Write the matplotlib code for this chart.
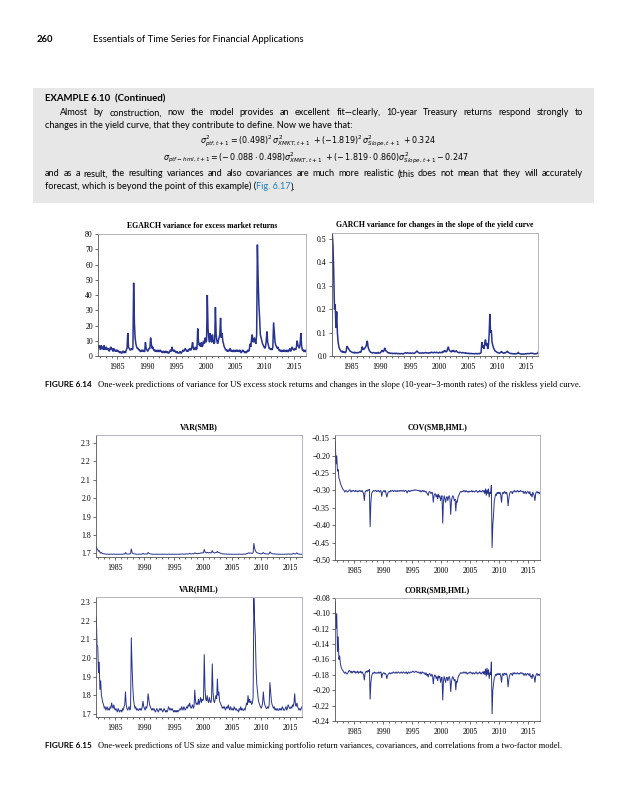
import matplotlib
matplotlib.use("Agg")
import matplotlib.pyplot as plt
import numpy as np
from matplotlib.patches import Rectangle

# weekly series sampled every 1/8 year, first point at 1981.75
T0 = 1981.75
STEP = 0.125

egarch = [5, 7,
          6, 4, 7, 5, 6, 4, 7, 4,
          5, 6, 4, 5, 4, 3, 5, 6,
          4, 5, 3, 5, 4, 3, 4, 3,
          4, 3, 3, 2, 3, 2, 2, 3,
          3, 2, 3, 2, 4, 5, 15, 6,
          5, 4, 4, 5, 4, 5, 48, 22,
          12, 8, 6, 5, 5, 4, 4, 3,
          3, 4, 3, 4, 3, 3, 9, 5,
          4, 3, 4, 5, 5, 12, 8, 5,
          6, 4, 4, 3, 4, 3, 3, 4,
          3, 3, 4, 3, 3, 2, 3, 3,
          2, 3, 3, 2, 3, 2, 2, 3,
          4, 3, 6, 4, 3, 4, 3, 3,
          2, 3, 2, 2, 2, 3, 2, 2,
          3, 4, 3, 4, 5, 4, 3, 4,
          3, 4, 5, 4, 4, 6, 9, 5,
          4, 5, 6, 4, 5, 18, 10, 7,
          8, 6, 9, 6, 7, 10, 8, 12,
          9, 10, 40, 18, 12, 9, 15, 11,
          9, 14, 10, 8, 9, 32, 14, 10,
          8, 10, 12, 14, 25, 12, 15, 10,
          8, 6, 5, 4, 4, 3, 4, 3,
          4, 5, 3, 4, 3, 3, 4, 3,
          3, 4, 3, 4, 3, 3, 4, 3,
          2, 3, 4, 3, 3, 2, 3, 2,
          3, 4, 3, 4, 8, 6, 11, 14,
          9, 10, 12, 9, 8, 14, 73, 51,
          34, 25, 14, 12, 10, 8, 7, 6,
          5, 6, 10, 16, 9, 7, 5, 5,
          4, 5, 4, 6, 22, 15, 9, 7,
          6, 5, 6, 4, 4, 3, 4, 3,
          3, 4, 3, 4, 3, 3, 4, 3,
          3, 4, 5, 3, 4, 6, 5, 4,
          4, 5, 4, 6, 10, 7, 6, 5,
          8, 15, 7, 4, 4, 3, 3, 4,
          3]

garch = [0.52, 0.47,
         0.35, 0.20, 0.22, 0.12, 0.19, 0.10, 0.06, 0.04,
         0.03, 0.025, 0.02, 0.018, 0.02, 0.015, 0.018, 0.015,
         0.015, 0.02, 0.042, 0.038, 0.032, 0.028, 0.022, 0.02,
         0.018, 0.016, 0.015, 0.014, 0.016, 0.013, 0.015, 0.014,
         0.013, 0.015, 0.014, 0.016, 0.018, 0.015, 0.025, 0.04,
         0.03, 0.028, 0.032, 0.035, 0.04, 0.05, 0.065, 0.04,
         0.03, 0.022, 0.018, 0.015, 0.014, 0.013, 0.015, 0.014,
         0.013, 0.012, 0.014, 0.012, 0.013, 0.015, 0.012, 0.013,
         0.014, 0.018, 0.025, 0.02, 0.018, 0.025, 0.035, 0.025,
         0.02, 0.018, 0.015, 0.013, 0.014, 0.012, 0.011, 0.012,
         0.012, 0.01, 0.011, 0.012, 0.01, 0.011, 0.012, 0.01,
         0.01, 0.011, 0.01, 0.009, 0.01, 0.011, 0.01, 0.009,
         0.01, 0.012, 0.014, 0.013, 0.012, 0.014, 0.013, 0.012,
         0.012, 0.013, 0.011, 0.012, 0.013, 0.012, 0.011, 0.013,
         0.014, 0.018, 0.022, 0.018, 0.015, 0.013, 0.012, 0.013,
         0.012, 0.013, 0.014, 0.012, 0.013, 0.014, 0.015, 0.013,
         0.014, 0.013, 0.012, 0.014, 0.013, 0.015, 0.016, 0.014,
         0.015, 0.014, 0.016, 0.015, 0.014, 0.016, 0.015, 0.014,
         0.013, 0.016, 0.015, 0.014, 0.016, 0.015, 0.02, 0.017,
         0.025, 0.02, 0.018, 0.02, 0.03, 0.04, 0.028, 0.022,
         0.02, 0.018, 0.022, 0.02, 0.025, 0.02, 0.018, 0.02,
         0.022, 0.018, 0.016, 0.015, 0.014, 0.016, 0.015, 0.014,
         0.013, 0.015, 0.014, 0.013, 0.012, 0.014, 0.012, 0.011,
         0.011, 0.012, 0.01, 0.011, 0.01, 0.011, 0.01, 0.01,
         0.01, 0.009, 0.01, 0.011, 0.01, 0.009, 0.01, 0.011,
         0.01, 0.012, 0.015, 0.06, 0.035, 0.045, 0.03, 0.055,
         0.07, 0.045, 0.055, 0.03, 0.04, 0.09, 0.18, 0.10,
         0.11, 0.06, 0.045, 0.035, 0.028, 0.022, 0.02, 0.018,
         0.015, 0.014, 0.013, 0.012, 0.014, 0.016, 0.02, 0.015,
         0.013, 0.012, 0.014, 0.013, 0.015, 0.018, 0.02, 0.016,
         0.014, 0.012, 0.011, 0.01, 0.011, 0.01, 0.009, 0.01,
         0.009, 0.01, 0.009, 0.01, 0.012, 0.015, 0.011, 0.01,
         0.009, 0.008, 0.009, 0.008, 0.009, 0.008, 0.009, 0.01,
         0.009, 0.01, 0.011, 0.01, 0.01, 0.011, 0.012, 0.011,
         0.012, 0.011, 0.01, 0.009, 0.01, 0.009, 0.01, 0.011,
         0.015]

var_smb = [1.735, 1.725,
           1.72, 1.71, 1.715, 1.705, 1.70, 1.705, 1.70, 1.698,
           1.698, 1.697, 1.696, 1.696, 1.695, 1.696, 1.695, 1.695,
           1.695, 1.696, 1.695, 1.696, 1.695, 1.695, 1.696, 1.695,
           1.695, 1.695, 1.695, 1.695, 1.695, 1.695, 1.695, 1.695,
           1.695, 1.695, 1.695, 1.696, 1.697, 1.696, 1.705, 1.698,
           1.696, 1.696, 1.697, 1.696, 1.697, 1.698, 1.725, 1.705,
           1.70, 1.698, 1.697, 1.696, 1.696, 1.695, 1.695, 1.695,
           1.695, 1.695, 1.696, 1.695, 1.695, 1.696, 1.700, 1.697,
           1.696, 1.696, 1.697, 1.696, 1.697, 1.705, 1.70, 1.698,
           1.697, 1.696, 1.696, 1.695, 1.695, 1.695, 1.695, 1.695,
           1.695, 1.695, 1.695, 1.695, 1.695, 1.695, 1.695, 1.695,
           1.695, 1.695, 1.695, 1.695, 1.695, 1.695, 1.695, 1.695,
           1.695, 1.696, 1.695, 1.695, 1.695, 1.695, 1.695, 1.695,
           1.695, 1.695, 1.695, 1.695, 1.695, 1.695, 1.695, 1.695,
           1.695, 1.695, 1.696, 1.696, 1.697, 1.696, 1.695, 1.696,
           1.696, 1.696, 1.697, 1.696, 1.697, 1.698, 1.700, 1.697,
           1.697, 1.697, 1.698, 1.697, 1.698, 1.703, 1.700, 1.699,
           1.699, 1.698, 1.700, 1.699, 1.700, 1.702, 1.701, 1.703,
           1.702, 1.703, 1.722, 1.708, 1.704, 1.702, 1.706, 1.703,
           1.702, 1.705, 1.703, 1.702, 1.703, 1.716, 1.706, 1.703,
           1.702, 1.703, 1.704, 1.705, 1.711, 1.704, 1.706, 1.703,
           1.701, 1.699, 1.698, 1.697, 1.697, 1.696, 1.696, 1.696,
           1.696, 1.696, 1.695, 1.696, 1.695, 1.695, 1.696, 1.695,
           1.695, 1.695, 1.695, 1.695, 1.695, 1.695, 1.695, 1.695,
           1.695, 1.695, 1.696, 1.695, 1.695, 1.695, 1.695, 1.695,
           1.695, 1.696, 1.695, 1.696, 1.699, 1.698, 1.701, 1.703,
           1.700, 1.701, 1.702, 1.700, 1.700, 1.703, 1.755, 1.728,
           1.715, 1.708, 1.704, 1.702, 1.701, 1.700, 1.699, 1.698,
           1.697, 1.698, 1.700, 1.705, 1.700, 1.698, 1.697, 1.697,
           1.696, 1.697, 1.696, 1.698, 1.708, 1.703, 1.700, 1.698,
           1.697, 1.697, 1.697, 1.696, 1.696, 1.695, 1.696, 1.695,
           1.695, 1.695, 1.695, 1.695, 1.695, 1.695, 1.695, 1.695,
           1.695, 1.695, 1.696, 1.695, 1.695, 1.697, 1.696, 1.695,
           1.695, 1.696, 1.695, 1.697, 1.700, 1.698, 1.697, 1.696,
           1.699, 1.703, 1.698, 1.696, 1.696, 1.695, 1.695, 1.695,
           1.695]

cov_sh = [-0.16, -0.225,
          -0.20, -0.245, -0.24, -0.265, -0.27, -0.28, -0.285, -0.29,
          -0.295, -0.298, -0.30, -0.305, -0.302, -0.30, -0.303, -0.305,
          -0.303, -0.30, -0.298, -0.302, -0.305, -0.30, -0.303, -0.30,
          -0.302, -0.304, -0.30, -0.303, -0.301, -0.305, -0.302, -0.30,
          -0.303, -0.301, -0.304, -0.30, -0.305, -0.31, -0.33, -0.305,
          -0.302, -0.30, -0.303, -0.298, -0.30, -0.297, -0.405, -0.335,
          -0.31, -0.305, -0.302, -0.30, -0.303, -0.301, -0.30, -0.304,
          -0.302, -0.30, -0.303, -0.305, -0.30, -0.302, -0.318, -0.305,
          -0.303, -0.30, -0.305, -0.30, -0.31, -0.32, -0.31, -0.305,
          -0.303, -0.305, -0.30, -0.303, -0.301, -0.30, -0.304, -0.302,
          -0.30, -0.303, -0.301, -0.304, -0.30, -0.302, -0.303, -0.30,
          -0.302, -0.30, -0.303, -0.301, -0.30, -0.304, -0.301, -0.30,
          -0.303, -0.308, -0.302, -0.30, -0.304, -0.301, -0.303, -0.30,
          -0.30, -0.301, -0.299, -0.30, -0.298, -0.30, -0.299, -0.30,
          -0.301, -0.30, -0.303, -0.30, -0.305, -0.302, -0.30, -0.304,
          -0.30, -0.303, -0.305, -0.302, -0.308, -0.31, -0.315, -0.305,
          -0.303, -0.306, -0.31, -0.305, -0.308, -0.335, -0.315, -0.31,
          -0.31, -0.32, -0.312, -0.325, -0.31, -0.32, -0.315, -0.33,
          -0.32, -0.315, -0.395, -0.33, -0.315, -0.325, -0.335, -0.32,
          -0.318, -0.33, -0.32, -0.315, -0.325, -0.37, -0.33, -0.32,
          -0.315, -0.32, -0.33, -0.325, -0.36, -0.33, -0.335, -0.32,
          -0.315, -0.31, -0.305, -0.303, -0.305, -0.302, -0.304, -0.30,
          -0.302, -0.305, -0.30, -0.303, -0.305, -0.302, -0.306, -0.303,
          -0.302, -0.304, -0.30, -0.305, -0.302, -0.303, -0.305, -0.302,
          -0.30, -0.303, -0.306, -0.302, -0.305, -0.30, -0.303, -0.305,
          -0.302, -0.30, -0.305, -0.30, -0.31, -0.295, -0.315, -0.298,
          -0.31, -0.295, -0.32, -0.305, -0.31, -0.285, -0.465, -0.40,
          -0.37, -0.33, -0.32, -0.31, -0.315, -0.305, -0.31, -0.305,
          -0.31, -0.305, -0.315, -0.335, -0.31, -0.305, -0.31, -0.303,
          -0.305, -0.31, -0.305, -0.315, -0.345, -0.325, -0.31, -0.305,
          -0.303, -0.305, -0.31, -0.302, -0.305, -0.30, -0.303, -0.305,
          -0.302, -0.30, -0.305, -0.302, -0.304, -0.30, -0.303, -0.302,
          -0.305, -0.302, -0.31, -0.305, -0.303, -0.31, -0.306, -0.303,
          -0.305, -0.31, -0.303, -0.315, -0.31, -0.32, -0.305, -0.31,
          -0.315, -0.33, -0.31, -0.305, -0.303, -0.308, -0.305, -0.31,
          -0.305]

var_hml = [2.22, 2.07,
           2.06, 1.92, 1.98, 1.83, 1.88, 1.80, 1.78, 1.76,
           1.75, 1.73, 1.74, 1.72, 1.73, 1.74, 1.72, 1.73,
           1.72, 1.74, 1.73, 1.76, 1.74, 1.73, 1.75, 1.73,
           1.72, 1.73, 1.72, 1.71, 1.73, 1.72, 1.71, 1.72,
           1.72, 1.71, 1.73, 1.72, 1.74, 1.75, 1.82, 1.75,
           1.73, 1.72, 1.73, 1.74, 1.72, 1.73, 2.11, 1.96,
           1.85, 1.78, 1.75, 1.73, 1.74, 1.72, 1.73, 1.72,
           1.72, 1.73, 1.72, 1.73, 1.72, 1.74, 1.77, 1.74,
           1.73, 1.72, 1.74, 1.73, 1.75, 1.81, 1.78, 1.75,
           1.74, 1.73, 1.72, 1.73, 1.72, 1.73, 1.72, 1.71,
           1.72, 1.73, 1.72, 1.71, 1.72, 1.73, 1.72, 1.73,
           1.72, 1.71, 1.72, 1.73, 1.72, 1.71, 1.72, 1.71,
           1.72, 1.74, 1.73, 1.72, 1.73, 1.72, 1.73, 1.72,
           1.71, 1.72, 1.71, 1.72, 1.71, 1.72, 1.71, 1.72,
           1.72, 1.73, 1.72, 1.74, 1.73, 1.72, 1.74, 1.73,
           1.72, 1.73, 1.74, 1.73, 1.75, 1.74, 1.76, 1.74,
           1.73, 1.74, 1.75, 1.73, 1.74, 1.83, 1.77, 1.75,
           1.76, 1.75, 1.78, 1.75, 1.77, 1.79, 1.76, 1.78,
           1.77, 1.78, 2.02, 1.84, 1.78, 1.77, 1.80, 1.77,
           1.76, 1.79, 1.77, 1.76, 1.78, 1.97, 1.82, 1.77,
           1.76, 1.78, 1.80, 1.78, 1.89, 1.80, 1.82, 1.77,
           1.76, 1.75, 1.74, 1.73, 1.74, 1.73, 1.74, 1.72,
           1.73, 1.74, 1.73, 1.75, 1.73, 1.72, 1.74, 1.73,
           1.72, 1.73, 1.72, 1.74, 1.73, 1.72, 1.73, 1.72,
           1.72, 1.71, 1.73, 1.72, 1.74, 1.72, 1.73, 1.72,
           1.72, 1.73, 1.72, 1.74, 1.76, 1.75, 1.80, 1.76,
           1.78, 1.76, 1.77, 1.75, 1.76, 1.79, 2.32, 2.20,
           2.12, 1.95, 1.86, 1.82, 1.78, 1.76, 1.75, 1.74,
           1.73, 1.74, 1.76, 1.82, 1.77, 1.75, 1.74, 1.73,
           1.73, 1.74, 1.73, 1.75, 1.87, 1.82, 1.77, 1.75,
           1.74, 1.73, 1.74, 1.72, 1.73, 1.72, 1.73, 1.72,
           1.72, 1.73, 1.72, 1.73, 1.72, 1.74, 1.73, 1.72,
           1.72, 1.73, 1.74, 1.72, 1.73, 1.75, 1.74, 1.73,
           1.73, 1.74, 1.73, 1.75, 1.74, 1.76, 1.81, 1.75,
           1.74, 1.76, 1.74, 1.73, 1.72, 1.73, 1.72, 1.73,
           1.74]

corr_sh = [-0.085, -0.12,
           -0.10, -0.15, -0.13, -0.16, -0.155, -0.165, -0.17, -0.172,
           -0.174, -0.175, -0.177, -0.178, -0.176, -0.178, -0.179, -0.178,
           -0.176, -0.174, -0.175, -0.177, -0.175, -0.178, -0.176, -0.175,
           -0.177, -0.175, -0.178, -0.176, -0.177, -0.175, -0.178, -0.176,
           -0.177, -0.175, -0.178, -0.176, -0.178, -0.18, -0.187, -0.178,
           -0.176, -0.175, -0.177, -0.174, -0.176, -0.173, -0.212, -0.19,
           -0.182, -0.179, -0.177, -0.178, -0.176, -0.178, -0.177, -0.178,
           -0.177, -0.178, -0.176, -0.178, -0.177, -0.176, -0.184, -0.179,
           -0.178, -0.177, -0.179, -0.178, -0.18, -0.185, -0.181, -0.179,
           -0.178, -0.177, -0.179, -0.178, -0.177, -0.178, -0.176, -0.177,
           -0.178, -0.177, -0.176, -0.178, -0.177, -0.176, -0.177, -0.178,
           -0.177, -0.176, -0.178, -0.177, -0.176, -0.177, -0.178, -0.177,
           -0.176, -0.179, -0.177, -0.176, -0.178, -0.177, -0.176, -0.177,
           -0.176, -0.175, -0.176, -0.177, -0.176, -0.175, -0.176, -0.177,
           -0.176, -0.177, -0.178, -0.176, -0.179, -0.177, -0.176, -0.178,
           -0.177, -0.178, -0.18, -0.177, -0.181, -0.179, -0.183, -0.179,
           -0.178, -0.18, -0.182, -0.179, -0.181, -0.192, -0.183, -0.18,
           -0.181, -0.185, -0.182, -0.188, -0.181, -0.184, -0.182, -0.19,
           -0.185, -0.183, -0.213, -0.188, -0.182, -0.186, -0.19, -0.184,
           -0.183, -0.188, -0.184, -0.182, -0.186, -0.202, -0.189, -0.184,
           -0.182, -0.185, -0.188, -0.186, -0.20, -0.188, -0.19, -0.184,
           -0.181, -0.18, -0.178, -0.177, -0.178, -0.177, -0.178, -0.176,
           -0.177, -0.178, -0.176, -0.178, -0.179, -0.177, -0.178, -0.177,
           -0.176, -0.178, -0.177, -0.179, -0.177, -0.178, -0.179, -0.177,
           -0.176, -0.178, -0.179, -0.177, -0.178, -0.176, -0.178, -0.179,
           -0.177, -0.176, -0.179, -0.175, -0.18, -0.172, -0.182, -0.171,
           -0.18, -0.173, -0.185, -0.177, -0.18, -0.163, -0.231, -0.2,
           -0.192, -0.184, -0.182, -0.179, -0.181, -0.178, -0.18, -0.178,
           -0.18, -0.178, -0.182, -0.19, -0.18, -0.178, -0.181, -0.178,
           -0.178, -0.18, -0.178, -0.183, -0.196, -0.187, -0.181, -0.179,
           -0.178, -0.179, -0.181, -0.177, -0.179, -0.177, -0.178, -0.179,
           -0.178, -0.177, -0.179, -0.178, -0.179, -0.177, -0.178, -0.177,
           -0.179, -0.178, -0.181, -0.179, -0.178, -0.181, -0.179, -0.178,
           -0.179, -0.181, -0.178, -0.183, -0.181, -0.185, -0.179, -0.181,
           -0.183, -0.19, -0.182, -0.179, -0.178, -0.181, -0.179, -0.181,
           -0.179]

year_ticks = [1985, 1990, 1995, 2000, 2005, 2010, 2015]
egarch_ticks = [0, 10, 20, 30, 40, 50, 60, 70, 80]
garch_ticks = [0.0, 0.1, 0.2, 0.3, 0.4, 0.5]
var_ticks = [1.7, 1.8, 1.9, 2.0, 2.1, 2.2, 2.3]
cov_ticks = [-0.50, -0.45, -0.40, -0.35, -0.30, -0.25, -0.20, -0.15]
corr_ticks = [-0.24, -0.22, -0.20, -0.18, -0.16, -0.14, -0.12, -0.10, -0.08]

W, H = 625, 800
LINE = "#27338f"
SERIF = "Liberation Serif"
SANS = "Lato"

plt.rcParams["mathtext.fontset"] = "dejavusans"

fig = plt.figure(figsize=(W / 100, H / 100), dpi=100)
renderer = fig.canvas.get_renderer()


def px(x, y):
    return x / W, 1 - y / H


def put(x, y, s, **kw):
    kw.setdefault("va", "center")
    return fig.text(*px(x, y), s, **kw)


def line(x, y, s, **kw):
    # body text sits on a baseline so commas and brackets do not shift words
    return put(x, y + 2.4, s, va="baseline", **kw)


def justify(x0, x1, y, text, **kw):
    words = text.split(" ")
    texts = [line(0, y, w, **kw) for w in words]
    widths = [t.get_window_extent(renderer).width for t in texts]
    gap = (x1 - x0 - sum(widths)) / (len(words) - 1)
    x = x0
    for t, w in zip(texts, widths):
        t.set_x(x / W)
        x += w + gap


def run(x, y, pieces, **kw):
    for s, color in pieces:
        t = line(x, y, s, color=color, **kw)
        x += t.get_window_extent(renderer).width


def panel(box, values, title, ylim, ticks, labels, lw):
    x0, y0, x1, y1 = box
    ax = fig.add_axes([x0 / W, 1 - y1 / H, (x1 - x0) / W, (y1 - y0) / H])
    t = T0 + STEP * np.arange(len(values))
    ax.plot(t, values, color=LINE, lw=lw, solid_joinstyle="miter")
    ax.set_xlim(1981.7, 2017.0)
    ax.set_ylim(*ylim)
    ax.set_xticks(year_ticks)
    ax.set_xticks(np.arange(1982, 2017), minor=True)
    ax.set_yticks(ticks)
    ax.set_yticklabels(labels)
    for lab in ax.get_xticklabels() + ax.get_yticklabels():
        lab.set_family(SERIF)
        lab.set_fontsize(5.6)
    ax.tick_params(axis="both", which="major", direction="out", length=2.2, width=0.5, pad=1.5, colors="#333333", labelcolor="black")
    ax.tick_params(axis="x", which="minor", direction="out", length=1.4, width=0.5, colors="#333333")
    ax.tick_params(axis="x", pad=3)
    for side, sp in ax.spines.items():
        sp.set_linewidth(0.6)
        sp.set_color("#555555" if side in ("left", "bottom") else "#a8a8b8")
    ax.set_title(title, fontsize=5.6, fontweight="bold", family=SERIF, pad=4)
    return ax


def minus(v, fmt):
    return format(v, fmt).replace("-", "\u2212")


# page header
put(37, 40, "260", fontsize=6.8, fontweight="bold", family=SANS)
put(93, 40, "Essentials of Time Series for Financial Applications", fontsize=6.8, family=SANS)

# example box
fig.patches.append(Rectangle(px(33, 203), (594 - 33) / W, (203 - 88) / H,
                             transform=fig.transFigure, facecolor="#e7e7e7", edgecolor="none", zorder=0))
put(45, 99, "EXAMPLE 6.10  (Continued)", fontsize=6.9, fontweight="bold", family=SANS)
body = dict(fontsize=6.6, family=SANS)
justify(60, 583, 113, "Almost by construction, now the model provides an excellent fit\u2014clearly, "
        "10-year Treasury returns respond strongly to", **body)
line(45, 126, "changes in the yield curve, that they contribute to define. Now we have that:", **body)
put(318, 141, r"$\sigma^2_{ptf,t+1}=(0.498)^2\,\sigma^2_{XMKT,t+1}\ +(-1.819)^2\,\sigma^2_{Slope,t+1}\ +0.324$",
    fontsize=5.8, ha="center")
put(316, 158, r"$\sigma_{ptf-hml,t+1}=(-\,0.088\cdot0.498)\sigma^2_{XMKT,t+1}\ +(-\,1.819\cdot0.860)\sigma^2_{Slope,t+1}-0.247$",
    fontsize=5.8, ha="center")
justify(45, 583, 174, "and as a result, the resulting variances and also covariances are much more realistic "
        "(this does not mean that they will accurately", **body)
run(45, 187, [("forecast, which is beyond the point of this example) (", "black"),
              ("Fig. 6.17", "#1f7fc0"), (").", "black")], **body)

# figure 6.14
panel((98, 234, 306, 356), egarch, "EGARCH variance for excess market returns", (0, 80),
      egarch_ticks, [str(v) for v in egarch_ticks], 1.1)
panel((332, 233, 538, 356), garch, "GARCH variance for changes in the slope of the yield curve", (0, 0.526),
      garch_ticks, [f"{v:.1f}" for v in garch_ticks], 1.1)
put(45, 385, "FIGURE 6.14", fontsize=5.9, fontweight="bold", family=SANS)
put(98, 385, "One-week predictions of variance for US excess stock returns and changes in the slope "
    "(10-year\u22123-month rates) of the riskless yield curve.", fontsize=6.2, family=SERIF)

# figure 6.15
panel((96, 435, 302, 557), var_smb, "VAR(SMB)", (1.68, 2.343),
      var_ticks, [f"{v:.1f}" for v in var_ticks], 0.7)
panel((335, 435, 540, 560), cov_sh, "COV(SMB,HML)", (-0.50, -0.141),
      cov_ticks, [minus(v, ".2f") for v in cov_ticks], 0.7)
panel((96, 597, 302, 717), var_hml, "VAR(HML)", (1.684, 2.327),
      var_ticks, [f"{v:.1f}" for v in var_ticks], 0.7)
panel((335, 598, 540, 721), corr_sh, "CORR(SMB,HML)", (-0.24, -0.08),
      corr_ticks, [minus(v, ".2f") for v in corr_ticks], 0.7)
put(45, 746, "FIGURE 6.15", fontsize=5.9, fontweight="bold", family=SANS)
put(98, 746, "One-week predictions of US size and value mimicking portfolio return variances, covariances, "
    "and correlations from a two-factor model.", fontsize=6.0, family=SERIF)

fig.savefig("out.png", dpi=100, facecolor="white")
